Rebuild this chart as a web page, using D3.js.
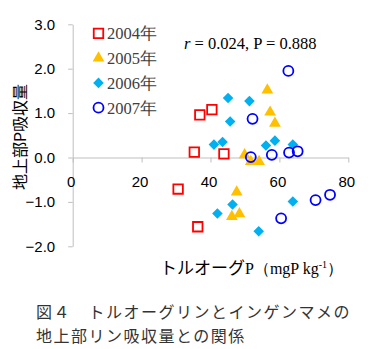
<!DOCTYPE html>
<html><head><meta charset="utf-8">
<script src="https://cdn.jsdelivr.net/npm/d3@7"></script>
<style>
body{margin:0;background:#fff;}
svg{display:block;}
</style></head>
<body>
<script>
// ---- data ----
const years = ["2004年", "2005年", "2006年", "2007年"];
const xTicks = [0, 20, 40, 60, 80];
const yTicks = [-2, -1, 0, 1, 2, 3];
const s2004x = [36.9, 40.4, 35.3, 43.9, 30.6, 36.3];
const s2004y = [0.96, 1.08, 0.12, 0.08, -0.71, -1.56];
const s2005x = [56.5, 57.3, 58.7, 49.9, 51.7, 54.1, 47.6, 46.2, 48.4];
const s2005y = [1.52, 1.02, 0.77, 0.06, -0.09, -0.09, -0.78, -1.33, -1.27];
const s2006x = [45.1, 51.3, 45.7, 41.0, 43.5, 56.1, 58.7, 63.9, 46.4, 42.0, 54.0, 63.9];
const s2006y = [1.34, 1.27, 0.81, 0.29, 0.35, 0.27, 0.38, 0.29, -1.06, -1.26, -1.66, -0.99];
const s2007x = [62.6, 52.2, 51.7, 57.8, 62.8, 65.3, 60.5, 70.5, 74.7];
const s2007y = [1.95, 0.87, 0.01, 0.06, 0.11, 0.14, -1.37, -0.96, -0.84];
const statText = ["r", " = 0.024,  P = 0.888"];
const xTitle = ["トルオーグ", "P（mgP kg", "-1", "）"];
const yTitle = "地上部P吸収量";
const caption = ["図４　トルオーグリンとインゲンマメの", "地上部リン吸収量との関係"];

const W = 373, H = 349;
const svg = d3.select("body").append("svg").attr("width", W).attr("height", H);

const x = d3.scaleLinear().domain([0, 80]).range([72.7, 348.3]);
const y = d3.scaleLinear().domain([-2, 3]).range([246.3, 24.3]);
const axisColor = "#bfbfbf";
const tickFont = "'Liberation Sans', Arial, sans-serif";
const serif = "'Liberation Serif', 'Times New Roman', serif";
const cjk = "'Noto Sans CJK JP', sans-serif";

// y axis
const gy = svg.append("g").attr("transform", `translate(${x(0)},0)`)
  .call(d3.axisLeft(y).tickValues(yTicks).tickFormat(d3.format(".1f")).tickSizeInner(4.5).tickSizeOuter(0).tickPadding(13));
gy.select(".domain").attr("stroke", axisColor);
gy.selectAll(".tick line").attr("stroke", axisColor);
gy.selectAll(".tick text").attr("font-family", tickFont).attr("font-size", 15).attr("fill", "#000");

// x axis
const gx = svg.append("g").attr("transform", `translate(0,${y(0)})`)
  .call(d3.axisBottom(x).tickValues(xTicks).tickFormat(d3.format("d")).tickSizeInner(5).tickSizeOuter(0).tickPadding(14));
gx.select(".domain").attr("stroke", axisColor);
gx.selectAll(".tick line").attr("stroke", axisColor);
gx.selectAll(".tick text").attr("font-family", tickFont).attr("font-size", 15).attr("fill", "#000").attr("dx", -2);

// markers
const sym = {
  sq: d3.symbol().type(d3.symbolSquare).size(90)(),
  tri: d3.symbol().type(d3.symbolTriangle).size(60)(),
  dia: d3.symbol().type(d3.symbolSquare).size(56)()
};
function drawSeries(xs, ys, kind) {
  const g = svg.append("g");
  const pts = xs.map((v, i) => [v, ys[i]]);
  if (kind === "sq") {
    g.selectAll("path").data(pts).join("path").attr("d", sym.sq)
      .attr("transform", d => `translate(${x(d[0])},${y(d[1])})`)
      .attr("fill", "none").attr("stroke", "#ff0000").attr("stroke-width", 1.8);
  } else if (kind === "tri") {
    g.selectAll("path").data(pts).join("path").attr("d", sym.tri)
      .attr("transform", d => `translate(${x(d[0])},${y(d[1])})`)
      .attr("fill", "#ffc000");
  } else if (kind === "dia") {
    g.selectAll("path").data(pts).join("path").attr("d", sym.dia)
      .attr("transform", d => `translate(${x(d[0])},${y(d[1])}) rotate(45)`)
      .attr("fill", "#00b0f0");
  } else {
    g.selectAll("circle").data(pts).join("circle")
      .attr("cx", d => x(d[0])).attr("cy", d => y(d[1])).attr("r", 5)
      .attr("fill", "none").attr("stroke", "#0000ff").attr("stroke-width", 1.8);
  }
}
drawSeries(s2004x, s2004y, "sq");
drawSeries(s2005x, s2005y, "tri");
drawSeries(s2006x, s2006y, "dia");
drawSeries(s2007x, s2007y, "circ");

// legend
const kinds = ["sq", "tri", "dia", "circ"];
const lg = svg.append("g");
years.forEach((t, i) => {
  const cy = 33.3 + i * 24.8, cx = 98.5;
  const k = kinds[i];
  if (k === "sq") lg.append("path").attr("d", sym.sq).attr("transform", `translate(${cx},${cy})`).attr("fill", "none").attr("stroke", "#ff0000").attr("stroke-width", 1.8);
  else if (k === "tri") lg.append("path").attr("d", sym.tri).attr("transform", `translate(${cx},${cy})`).attr("fill", "#ffc000");
  else if (k === "dia") lg.append("path").attr("d", sym.dia).attr("transform", `translate(${cx},${cy}) rotate(45)`).attr("fill", "#00b0f0");
  else lg.append("circle").attr("cx", cx).attr("cy", cy).attr("r", 5).attr("fill", "none").attr("stroke", "#0000ff").attr("stroke-width", 1.8);
  lg.append("text").attr("x", 107).attr("y", cy + 6).attr("font-family", serif).attr("font-size", 16.5).attr("fill", "#404040").text(t);
});

// stat annotation
const st = svg.append("text").attr("x", 184).attr("y", 49).attr("font-family", serif).attr("font-size", 16.5).attr("fill", "#000");
st.append("tspan").attr("font-style", "italic").text(statText[0]);
st.append("tspan").text(statText[1]);

// y title
svg.append("text").attr("transform", "translate(18.5,137) rotate(-90)")
  .attr("text-anchor", "middle").attr("dominant-baseline", "central")
  .attr("font-family", cjk).attr("font-size", 16).attr("fill", "#000").text(yTitle);

// x title
const xt = svg.append("text").attr("x", 160).attr("y", 274).attr("fill", "#000");
xt.append("tspan").attr("font-family", cjk).attr("font-size", 17).text(xTitle[0]);
xt.append("tspan").attr("font-family", serif).attr("font-size", 16).text(xTitle[1]);
xt.append("tspan").attr("font-family", serif).attr("font-size", 10).attr("dy", -6).text(xTitle[2]);
xt.append("tspan").attr("font-family", serif).attr("font-size", 16).attr("dy", 6).text(xTitle[3]);

// caption
caption.forEach((c, i) => {
  svg.append("text").attr("x", 36).attr("y", 318 + i * 24).attr("font-family", cjk)
    .attr("font-size", 16).attr("letter-spacing", 1.5).attr("fill", "#333").text(c);
});
</script>
</body></html>
